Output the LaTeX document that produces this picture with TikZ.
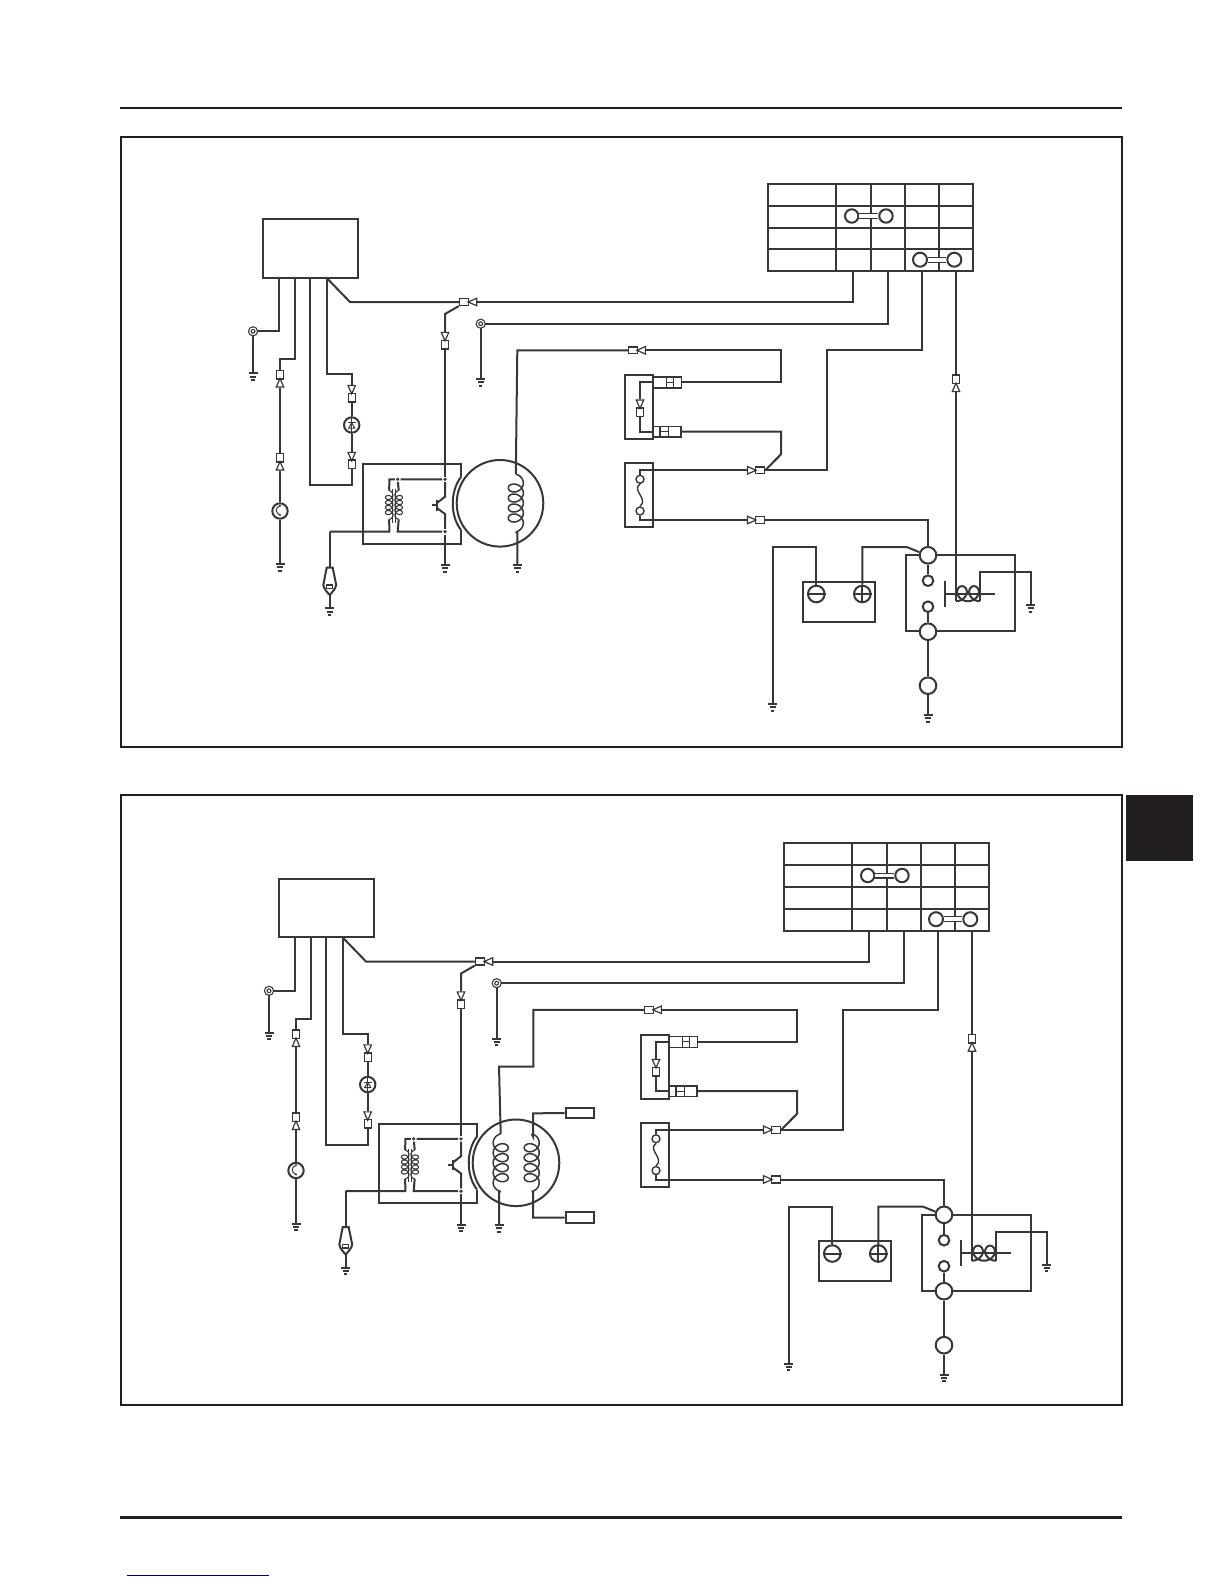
\documentclass[tikz,border=0pt]{standalone}
\usetikzlibrary{shapes.geometric}
\definecolor{ink}{HTML}{231F20}
\definecolor{wirecol}{HTML}{383637}
\definecolor{linkblue}{HTML}{00008B}
\tikzset{
  unit/.style 2 args={draw,inner sep=0,minimum width=#1,minimum height=#2},
  blob/.style={circle,draw,fill=white,inner sep=0,minimum size=#1},
  ring/.style={circle,draw,fill=white,inner sep=0,minimum size=6.5,line width=1.2pt,double,double distance=1.1pt},
  dot/.style={circle,fill=wirecol,inner sep=0,minimum size=3.6},
  sockv/.style={draw,fill=white,inner sep=0,line width=1.4pt,minimum width=7,minimum height=8.5},
  sockh/.style={draw,fill=white,inner sep=0,line width=1.4pt,minimum width=9,minimum height=6.8},
  plug/.style={isosceles triangle,isosceles triangle stretches,draw,fill=white,inner sep=0,line width=1.2pt,minimum width=7.5,minimum height=8.5,shape border rotate=#1},
  link/.style={double,double distance=3.6pt,line width=1.2pt}
}
% earth symbol: name, position
\newcommand{\earthat}[2]{
  \coordinate (#1-top) at (#2);
  \begin{scope}[shift={(#2)}]
    \draw (-4.5,0) -- (4.5,0) (-3.2,3.3) -- (3.2,3.3) (-1.6,6.6) -- (1.6,6.6);
  \end{scope}
}
% winding: name, transform, turns, pitch, lead-in angle
\newcommand{\coilat}[5]{
  \begin{scope}[#2]
    \draw plot[domain=-#5:#3*360+#5,samples=193,variable=\t] ({7.5*cos(\t)},{#4*\t/360+0.63*#4*sin(\t)});
    \coordinate (#1-a) at ({7.5*cos(-#5)},{-#4*#5/360-0.63*#4*sin(#5)});
    \coordinate (#1-b) at ({7.5*cos(#5)},{#4*#3+#4*#5/360+0.63*#4*sin(#5)});
  \end{scope}
}
% everything both panels have in common
\newcommand{\wiringcommon}{
  \node[blob=86.6] (rotor) at (500,503.3) {};
  \node[unit={94.4}{58.7}] (ecu) at (310.5,248.6) {};
  \coordinate (t1) at (278.7,278);
  \coordinate (t2) at (295,278);
  \coordinate (t3) at (310,278);
  \coordinate (t4) at (326.7,278);
  \coordinate (e2) at (295,359);
  \coordinate (e3) at (310,485);
  \coordinate (e4) at (326.7,374);
  \coordinate (e5) at (350,302);
  \coordinate (e6) at (445,314);
  \coordinate (e7) at (922,350.3);
  \coordinate (e8) at (827.3,470.3);
  \coordinate (e22) at (827.3,350.3);
  \coordinate (e10) at (781,350.3);
  \coordinate (e11) at (781,382.3);
  \coordinate (e12) at (781,431.7);
  \coordinate (e13) at (781,454.3);
  \coordinate (k1) at (853.3,271.3);
  \coordinate (k2) at (887.7,271.3);
  \coordinate (k3) at (922,271.3);
  \coordinate (k4) at (956,271.3);

  % switch table
  \node[unit={205}{87.6}] (switch) at (870.2,227.5) {};
  \draw (767.7,205.7) -- (972.7,205.7);
  \draw (767.7,227.7) -- (972.7,227.7);
  \draw (767.7,249.3) -- (972.7,249.3);
  \draw (836,183.7) -- (836,271.3);
  \draw (870.7,183.7) -- (870.7,271.3);
  \draw (904.7,183.7) -- (904.7,271.3);
  \draw (939,183.7) -- (939,271.3);
  \node[blob=13.4] (j1) at (851.7,216) {};
  \node[blob=13.4] (j2) at (886,216) {};
  \node[blob=14] (j3) at (920,259.7) {};
  \node[blob=14] (j4) at (954.3,259.7) {};
  \draw[link] (j1) -- (j2);
  \draw[link] (j3) -- (j4);

  % connector pairs
  \node[sockv] (s1) at (280,374.7) {};
  \node[plug=90] (p1) at (280,384.6) {};
  \node[sockv] (s2) at (280,457.7) {};
  \node[plug=90] (p2) at (280,467.6) {};
  \node[sockv] (s3) at (351.7,397.7) {};
  \node[plug=-90] (p3) at (351.7,387.8) {};
  \node[sockv] (s4) at (351.7,464.3) {};
  \node[plug=-90] (p4) at (351.7,454.8) {};
  \node[sockh] (s5) at (464,302) {};
  \node[plug=180] (p5) at (474.2,302) {};
  \node[sockv] (s6) at (445,344.7) {};
  \node[plug=-90] (p6) at (445,334.8) {};
  \node[sockh] (s7) at (633,350.3) {};
  \node[plug=180] (p7) at (642.9,350.3) {};
  \node[sockh] (s8) at (760,470.3) {};
  \node[plug=0] (p8) at (750,470.3) {};
  \node[sockh] (s9) at (760,520) {};
  \node[plug=0] (p9) at (750,520) {};
  \node[sockv] (s10) at (956,379.3) {};
  \node[plug=90] (p10) at (956,389.2) {};
  \node[sockv] (s11) at (640,412.3) {};
  \node[plug=-90] (p11) at (640,402.4) {};

  % earths
  \earthat{g1}{253,373.3}
  \earthat{g2}{280,564}
  \earthat{g3}{445,565}
  \earthat{g4}{480.7,379}
  \earthat{g5}{1030.7,605}
  \earthat{g6}{772.7,704}
  \earthat{g7}{928,715}
  \earthat{g8}{329.7,608.3}

  % left hand side
  \node[ring] (ring1) at (253,331.3) {};
  \node[ring] (ring2) at (480.7,323.7) {};
  \node[blob=15.4] (horn) at (280,511) {};
  \node[blob=15.4] (lamp) at (351.7,425) {};
  \fill (280,505.7) circle (1.1) (280,515) circle (1.1);
  \draw[line width=1pt] (280,505.7) .. controls (275,507.5) and (275,513) .. (280,515);
  \draw[line width=1.2pt] (lamp.north) -- (lamp.south);
  \draw[line width=1pt] (347.7,422.8) -- (355.7,422.8);
  \draw[line width=1pt] (348.7,428) -- (354.7,428) -- (351.7,422.8) -- cycle;

  \draw (t1) |- (ring1);
  \draw (ring1) -- (g1-top);
  \draw (t2) -- (e2) -| (s1);
  \draw (p1) -- (s2);
  \draw (p2) -- (horn);
  \draw (horn) -- (g2-top);
  \draw (t3) -- (e3) -| (s4);
  \draw (p4) -- (lamp);
  \draw (lamp) -- (s3);
  \draw (t4) -- (e4) -| (p3);
  \draw (t4) -- (e5) -- (s5);
  \draw (s5.south west) -- (e6) -- (p6);
  \draw (p5) -| (k1);
  \draw (k2) |- (ring2);
  \draw (ring2) -- (g4-top);

  % igniter
  \draw (461,477) -- (461,464) -- (363.3,464) -- (363.3,543.7) -- (461,543.7) -- (461,530);
  \draw (461,477) .. controls (450,491) and (450,516) .. (461,530);
  \node[dot] (q1) at (445,479.3) {};
  \node[dot] (q2) at (445,531.7) {};
  \node[dot] (q3) at (397.7,479.3) {};
  \coordinate (c1) at (389.3,479.3);
  \coordinate (c2) at (389.3,531.7);
  \coordinate (c3) at (397.7,531.7);
  \coordinate (c4) at (329.7,531.7);
  \coordinate (u1) at (445,496.7);
  \coordinate (u2) at (445,514);
  \begin{scope}[line width=1.1pt]
    \coilat{cl}{shift={(389.2,495)},scale=0.5}{4}{10}{90}
    \coilat{cr}{shift={(398.7,495)},xscale=-0.5,yscale=0.5}{4}{10}{90}
  \end{scope}
  \draw[line width=1.2pt] (392.7,489.3) -- (392.7,522.7);
  \draw[line width=1.2pt] (395.3,489.3) -- (395.3,522.7);
  \draw (s6) -- (q1);
  \draw (q1) -- (q3) -- (cr-a);
  \draw (q3) -- (c1) -- (cl-a);
  \draw (cl-b) -- (c2) -- (c4);
  \draw (cr-b) -- (c3) -- (q2);
  \draw (q1) -- (u1) -- (437.3,502.7);
  \draw (q2) -- (u2) -- (437.3,508.3);
  \draw (437.3,500) -- (437.3,510.7);
  \draw (431.7,505.3) -- (437.3,505.3);
  \draw (q2) -- (g3-top);

  % spark plug
  \coordinate (w1) at (329.7,567.7);
  \coordinate (w2) at (329.7,595);
  \draw (c4) -- (w1);
  \draw (w1) -- (326.7,567.7) -- (323.3,585) .. controls (324,589) and (327,592) .. (w2)
    .. controls (332.4,592) and (335.4,589) .. (336.2,585) -- (332.7,567.7) -- cycle;
  \node[unit={6}{3.4},fill=white,line width=1.2pt] (gap) at (329.7,586.7) {};
  \draw (w2) -- (g8-top);

  % regulator and fuse
  \node[unit={28.3}{64.3}] (reg) at (639.2,407.2) {};
  \node[unit={28.4}{11},fill=white,line width=1.4pt] (cona) at (667.5,382.3) {};
  \node[unit={27.6}{10.8},fill=white,line width=1.4pt] (conb) at (667.1,431.7) {};
  \draw[line width=1.2pt] (666.7,376.8) -- (666.7,387.8) (673.3,376.8) -- (673.3,387.8) (666.7,382.3) -- (673.3,382.3);
  \draw[line width=1.2pt] (660,426.3) -- (660,437.1) (668.3,426.3) -- (668.3,437.1) (660,431.7) -- (668.3,431.7);
  \draw (cona.west) -- (640,382.3) -- (p11);
  \draw (s11) -- (640,431.7) -- (conb.west);
  \draw (p7) -- (e10) -- (e11) -- (cona);
  \draw (conb) -- (e12) -- (e13) -- (s8.east);
  \draw (k3) -- (e7) -- (e22) -- (e8) -- (s8);
  \node[unit={28.3}{64}] (fuse) at (639.2,495.3) {};
  \node[blob=8,line width=1.4pt] (f1) at (640,479.3) {};
  \node[blob=8,line width=1.4pt] (f2) at (640,511) {};
  \draw[line width=1.4pt] (f1.south) .. controls (631,490) and (649,499) .. (f2.north);
  \draw (p8) -- (640,470.3) -- (f1);
  \draw (f2) -- (640,520) -- (p9);

  % battery and starter relay
  \node[unit={71.7}{40}] (bat) at (839.2,601.7) {};
  \node[blob=16.6] (minus) at (816.3,594) {};
  \node[blob=16.6] (plus) at (862.3,594) {};
  \draw (minus.west) -- (minus.east);
  \draw (plus.west) -- (plus.east);
  \draw (plus.north) -- (plus.south);
  \node[unit={109}{76}] (relay) at (960.5,593.3) {};
  \node[blob=16.6] (rt) at (928,555.3) {};
  \node[blob=16.6] (rb) at (928,631.7) {};
  \node[blob=10.6] (r1) at (928,580.7) {};
  \node[blob=10.6] (r2) at (928,606.7) {};
  \node[blob=16.6] (load) at (928,685.7) {};
  \coordinate (b1) at (816.3,547);
  \coordinate (b2) at (862.3,547);
  \coordinate (b3) at (906.7,547);
  \coordinate (h1) at (980,572.3);
  \draw (s9) -| (rt);
  \draw (minus) -- (b1) -| (g6-top);
  \draw (plus) -- (b2) -- (b3) -- (rt.160);
  \draw (rt) -- (r1);
  \draw (r2) -- (rb);
  \draw (rb) -- (load);
  \draw (load) -- (g7-top);
  \draw (945,580.7) -- (945,606.7);
  \draw (945,593.7) -- (995,593.7);
  \coilat{rc}{shift={(980,593.7)},rotate=90}{2}{12}{0}
  \draw (k4) -- (s10);
  \draw (p10) -- (rc-b);
  \draw (rc-a) -- (h1) -| (g5-top);
}

\begin{document}
\begin{tikzpicture}[x=1pt,y=1pt,yscale=-1,color=wirecol,line width=2pt]
\useasboundingbox (0,0) rectangle (1224,1584);

% page furniture
\draw[line width=2pt,ink] (120,108) -- (1122,108);
\draw[line width=3pt,ink] (120,1517.5) -- (1122,1517.5);
\draw[line width=1pt,linkblue] (127,1575.3) -- (269,1575.3);
\fill[ink] (1126,795) rectangle (1193,861);
\draw[line width=2pt,ink] (121,137) rectangle (1122,746.7);
\draw[line width=2pt,ink] (121,795) rectangle (1122,1405);

% upper panel
\begin{scope}[name prefix=a-]
\wiringcommon
\coordinate (e9) at (517.3,350.3);
\coordinate (e14) at (517.3,533);
\coilat{coil}{shift={(515.8,483)},line width=1.5pt}{4}{10}{90}
\earthat{g9}{517.3,565}
\draw (s7) -- (e9) -- (coil-a);
\draw (coil-b) -- (e14) -- (g9-top);
\end{scope}

% lower panel
\begin{scope}[shift={(16,659.5)},name prefix=b-]
\wiringcommon
\coordinate (e9) at (517.3,350.3);
\coordinate (e15) at (517.3,407);
\coordinate (e16) at (483,407);
\coordinate (e17) at (483,532);
\coordinate (e18) at (517,477);
\coordinate (e19) at (517,453.8);
\coordinate (e20) at (517,532);
\coordinate (e21) at (517,558.2);
\coilat{coila}{shift={(484.7,483.2)},xscale=-1,line width=1.5pt}{4}{10}{90}
\coilat{coilb}{shift={(515.7,483.2)},line width=1.5pt}{4}{10}{90}
\earthat{g9}{483,565.5}
\node[unit={28.3}{10.8},fill=white] (tb1) at (563.8,453.5) {};
\node[unit={28.3}{10.8},fill=white] (tb2) at (563.8,558.2) {};
\draw (s7) -- (e9) -- (e15) -- (e16) -- (coila-a);
\draw (coila-b) -- (e17) -- (g9-top);
\draw (tb1) -- (e19) -- (e18) -- (coilb-a);
\draw (coilb-b) -- (e20) -- (e21) -- (tb2);
\end{scope}

\end{tikzpicture}
\end{document}
